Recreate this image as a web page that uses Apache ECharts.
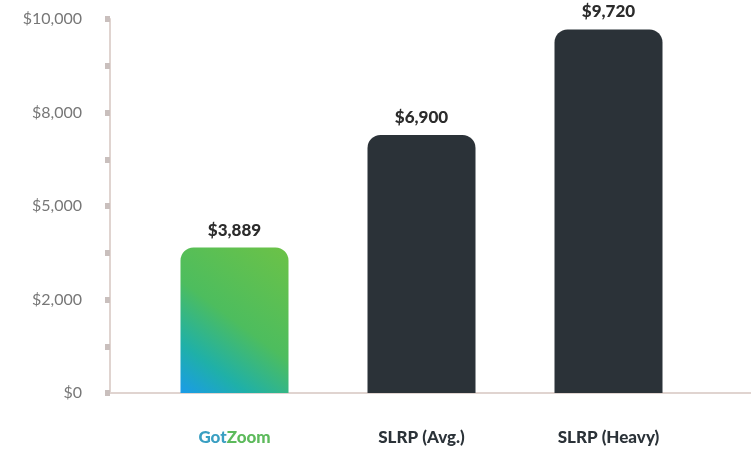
<!DOCTYPE html>
<html>
<head>
<meta charset="utf-8">
<script src="https://cdn.jsdelivr.net/npm/echarts@6/dist/echarts.min.js"></script>
<style>
html,body{margin:0;padding:0;background:#fff;}
#chart{width:751px;height:455px;}
</style>
</head>
<body>
<div id="chart"></div>
<script>
const categories = ['GotZoom', 'SLRP (Avg.)', 'SLRP (Heavy)'];
const values = [3889, 6900, 9720];
const valueLabels = ['$3,889', '$6,900', '$9,720'];
const tickLabels = ['$0', '$2,000', '$5,000', '$8,000', '$10,000'];

const chart = echarts.init(document.getElementById('chart'));
const G = echarts.graphic;
const greenGrad = new G.LinearGradient(0, 1, 1, 0, [
  {offset: 0, color: '#1a9be8'},
  {offset: 0.22, color: '#1fb0a8'},
  {offset: 0.5, color: '#4dbd5e'},
  {offset: 1, color: '#6cc247'}
]);

chart.setOption({
  animation: false,
  backgroundColor: '#ffffff',
  grid: [
    {left: 110, right: 0, top: 19, bottom: 62},
    {left: 141, right: 49, top: 19, bottom: 62}
  ],
  xAxis: [
    {
      gridIndex: 0, type: 'category', data: [''],
      axisLine: {show: true, lineStyle: {color: '#e0d4d0', width: 2}},
      axisTick: {show: false}, axisLabel: {show: false}, splitLine: {show: false}
    },
    {
      gridIndex: 1, type: 'category', data: categories,
      axisLine: {show: false}, axisTick: {show: false},
      axisLabel: {
        margin: 36,
        fontFamily: 'Lato', fontSize: 17, fontWeight: 900, color: '#2b3238',
        formatter: function (v, i) {
          return i === 0 ? '{b|' + v.slice(0, 3) + '}{g|' + v.slice(3) + '}' : v;
        },
        rich: {
          b: {color: '#3a9fc2', fontFamily: 'Lato', fontSize: 17, fontWeight: 900},
          g: {color: '#5dba5c', fontFamily: 'Lato', fontSize: 17, fontWeight: 900}
        }
      }
    }
  ],
  yAxis: [
    {
      gridIndex: 0, type: 'value', min: 0, max: 10000, interval: 2500,
      axisLine: {show: true, lineStyle: {color: '#e0d4d0', width: 2}},
      axisTick: {show: true, length: 5, lineStyle: {color: '#c9bfbd', width: 6}},
      minorTick: {show: true, splitNumber: 2, length: 5, lineStyle: {color: '#c9bfbd', width: 6}},
      splitLine: {show: false},
      axisLabel: {
        margin: 28, fontFamily: 'Lato', fontSize: 16, color: '#777777',
        formatter: function (v) { return tickLabels[Math.round(v / 2500)]; }
      }
    },
    {
      gridIndex: 1, type: 'value', min: 0, max: 10000, show: false
    }
  ],
  series: [{
    type: 'bar',
    xAxisIndex: 1, yAxisIndex: 1,
    barWidth: 108,
    data: values.map(function (v, i) {
      return {
        value: v,
        itemStyle: {color: i === 0 ? greenGrad : '#2b3238', borderRadius: [13, 13, 0, 0]}
      };
    }),
    label: {
      show: true, position: 'top', distance: 9,
      fontFamily: 'Lato', fontSize: 17, fontWeight: 900, color: '#2b2b2b',
      formatter: function (p) { return valueLabels[p.dataIndex]; }
    }
  }]
});
</script>
</body>
</html>
